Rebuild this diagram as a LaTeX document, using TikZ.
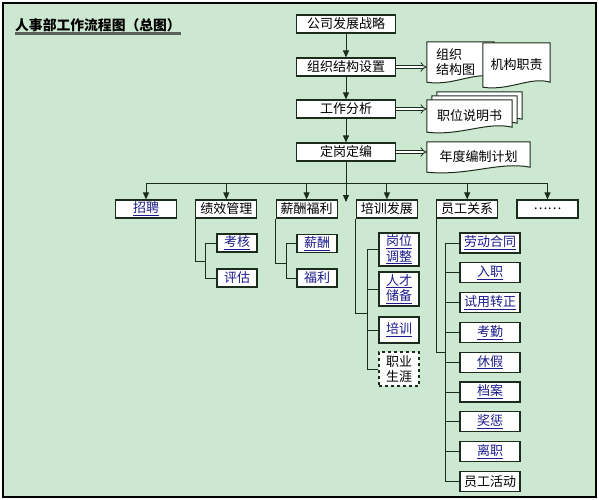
\documentclass[tikz,border=0pt]{standalone}
\usepackage{fontspec}
\setmainfont{Noto Sans CJK SC}
\usetikzlibrary{arrows.meta,positioning,calc}
\definecolor{paper}{RGB}{205,232,208}
\definecolor{linkblue}{RGB}{28,28,140}
\definecolor{wire}{RGB}{28,44,28}
\definecolor{titlebar}{RGB}{90,98,90}
\pgfdeclarelayer{paperlayer}
\pgfdeclarelayer{doclayer}
\pgfsetlayers{paperlayer,doclayer,main}
\tikzset{
  block/.style={rectangle, draw=wire, line width=1.2pt, fill=white,
    minimum width=99pt, minimum height=18pt, inner sep=1pt,
    font=\fontsize{13}{15.5}\selectfont},
  item/.style={block, minimum width=61pt},
  leaf/.style={block, minimum width=40pt, align=center},
  rel/.style={block, minimum width=60pt, minimum height=20pt},
  doctext/.style={inner sep=1pt, align=left, font=\fontsize{13}{15.5}\selectfont},
  docline/.style={fill=white, draw=wire, line width=1pt},
  down/.style={-{Triangle[length=7pt,width=6pt]}, draw=wire, line width=1pt},
  twin/.style={draw=wire, line width=0.8pt, double=white, double distance=2.5pt, -{Implies}},
  tree/.style={draw=wire, line width=1pt}
}
\newcommand{\lnk}[1]{\textcolor{linkblue}{\underline{#1}}}
% document outline with a wavy lower edge, drawn round a named node
\newcommand{\docwave}[2][0]{%
  \filldraw[docline] ([shift={(#1pt,0.8*#1pt)}]#2.north west)
    -- ([shift={(#1pt,0.8*#1pt)}]#2.north east)
    -- ([shift={(#1pt,0.8*#1pt+5pt)}]#2.south east)
    .. controls ($([shift={(#1pt,0.8*#1pt)}]#2.south east)!0.3!([shift={(#1pt,0.8*#1pt)}]#2.south west)+(0pt,11pt)$)
    and ($([shift={(#1pt,0.8*#1pt)}]#2.south west)!0.4!([shift={(#1pt,0.8*#1pt)}]#2.south east)+(0pt,-4pt)$)
    .. ([shift={(#1pt,0.8*#1pt)}]#2.south west) -- cycle;}
\begin{document}
\begin{tikzpicture}[x=1pt, y=-1pt]
  \useasboundingbox (0,0) rectangle (599,500);
  \begin{pgfonlayer}{paperlayer}
    \filldraw [fill=paper, draw=black, line width=1.5pt] (3,3) rectangle (596,497);
  \end{pgfonlayer}
  % Title
  \node [anchor=west, inner sep=0pt, font=\fontsize{13.8}{16}\selectfont\bfseries] (title) at (15,25) 
  {人事部工作流程图（总图）};
  \draw [titlebar, line width=2.5pt] ([yshift=-1.5pt]title.south west) -- ([yshift=-1.5pt]title.south east);
  % Main chain
  \node [block] (gsfz) at (346,24) {公司发展战略};
  \node [block, below of=gsfz, node distance=43pt] (zzjg) {组织结构设置};
  \node [block, below of=zzjg, node distance=42pt] (gzfx) {工作分析};
  \node [block, below of=gzfx, node distance=43pt] (dgdb) {定岗定编};
  % Documents
  \node [doctext, text width=49pt, inner xsep=9pt, minimum height=40pt] (zzt) at (460.5,62) 
  {组织\\结构图};
  \node [doctext, align=center, minimum width=67pt, minimum height=44pt] (jgzz) at (516.5,65) 
  {机构职责};
  \node [doctext, align=center, minimum width=85pt, minimum height=32pt] (zwsm) at (469.5,116) 
  {职位说明书};
  \node [doctext, align=center, minimum width=103pt, minimum height=30pt] (ndjh) at (478.5,157) 
  {年度编制计划};
  \begin{pgfonlayer}{doclayer}
    \docwave{zzt}
    \docwave{jgzz}
    \docwave[10]{zwsm}
    \docwave[5]{zwsm}
    \docwave{zwsm}
    \docwave{ndjh}
  \end{pgfonlayer}
  % Second row
  \node [item] (zp) at (146,209) {\lnk{招聘}};
  \node [item, right of=zp, node distance=80.3pt] (jxgl) {绩效管理};
  \node [item, right of=jxgl, node distance=80.3pt] (xcfl) {薪酬福利};
  \node [item, right of=xcfl, node distance=80.3pt] (pxfz) {培训发展};
  \node [item, right of=pxfz, node distance=80.3pt] (yggx) {员工关系};
  \node [item, right of=yggx, node distance=80.3pt] (qita) {……};
  % Sub items
  \node [leaf] (kh) at (237,243) {\lnk{考核}};
  \node [leaf, below of=kh, node distance=35pt] (pg) {\textcolor{linkblue}{评估}};
  \node [leaf] (xc) at (317,243.5) {\lnk{薪酬}};
  \node [leaf, below of=xc, node distance=34.5pt] (fl) {\textcolor{linkblue}{福利}};
  \node [leaf, minimum height=33pt] (gwtz) at (399,249.5) {\lnk{岗位}\\\lnk{调整}};
  \node [leaf, minimum height=34pt, below of=gwtz, node distance=39.5pt] (rccb) 
  {\lnk{人才}\\\lnk{储备}};
  \node [leaf, minimum height=26pt, below of=rccb, node distance=41pt] (px) {\lnk{培训}};
  \node [leaf, minimum height=34pt, below of=px, node distance=39pt, dashed] (zysy) 
  {职业\\生涯};
  \node [rel] (ldht) at (490,243) {\lnk{劳动合同}};
  \node [rel, below of=ldht, node distance=29.8pt] (rz) {\lnk{入职}};
  \node [rel, below of=rz, node distance=29.8pt] (syzz) {\lnk{试用转正}};
  \node [rel, below of=syzz, node distance=29.8pt] (kq) {\lnk{考勤}};
  \node [rel, below of=kq, node distance=29.8pt] (xj) {\lnk{休假}};
  \node [rel, below of=xj, node distance=29.8pt] (da) {\lnk{档案}};
  \node [rel, below of=da, node distance=29.8pt] (jc) {\lnk{奖惩}};
  \node [rel, below of=jc, node distance=29.8pt] (lz) {\lnk{离职}};
  \node [rel, below of=lz, node distance=29.8pt] (yghd) {员工活动};
  % Draw edges
  \draw [down] (gsfz) -- (zzjg);
  \draw [down] (zzjg) -- (gzfx);
  \draw [down] (gzfx) -- (dgdb);
  \draw [twin] (zzjg.east) -- (zzjg.east -| zzt.west);
  \draw [twin] (gzfx.east) -- (gzfx.east -| zwsm.west);
  \draw [twin] (dgdb.east) -- (dgdb.east -| ndjh.west);
  \coordinate (hub) at (346,183);
  \coordinate (midtip) at (346,202);
  \draw [down] (dgdb) -- (midtip);
  \draw [tree] (zp |- hub) -- (qita |- hub);
  \draw [down] (zp |- hub) -- (zp);
  \draw [down] (jxgl |- hub) -- (jxgl);
  \draw [down] (xcfl |- hub) -- (xcfl);
  \draw [down] (pxfz |- hub) -- (pxfz);
  \draw [down] (yggx |- hub) -- (yggx);
  \draw [down] (qita |- hub) -- (qita);
  \coordinate (jxjoin) at (206,261);
  \draw [tree] (jxgl.south west) |- (jxjoin);
  \draw [tree] (kh.west) -- ++(-11,0) |- (pg.west);
  \coordinate (xcjoin) at (287,263);
  \draw [tree] (xcfl.south west) |- (xcjoin);
  \draw [tree] (xc.west) -- ++(-10,0) |- (fl.west);
  \coordinate (pxjoin) at (368,313);
  \draw [tree] (pxfz.south west) |- (pxjoin);
  \draw [tree] (gwtz.west) -- ++(-11,0) |- (zysy.west);
  \draw [tree] (rccb.west) -- ++(-11,0);
  \draw [tree] (px.west) -- ++(-11,0);
  \coordinate (ygjoin) at (446,352);
  \draw [tree] (yggx.south west) |- (ygjoin);
  \draw [tree] (ldht.west) -- ++(-14,0) |- (yghd.west);
  \draw [tree] (rz.west) -- ++(-14,0);
  \draw [tree] (syzz.west) -- ++(-14,0);
  \draw [tree] (kq.west) -- ++(-14,0);
  \draw [tree] (xj.west) -- ++(-14,0);
  \draw [tree] (da.west) -- ++(-14,0);
  \draw [tree] (jc.west) -- ++(-14,0);
  \draw [tree] (lz.west) -- ++(-14,0);
\end{tikzpicture}
\end{document}
